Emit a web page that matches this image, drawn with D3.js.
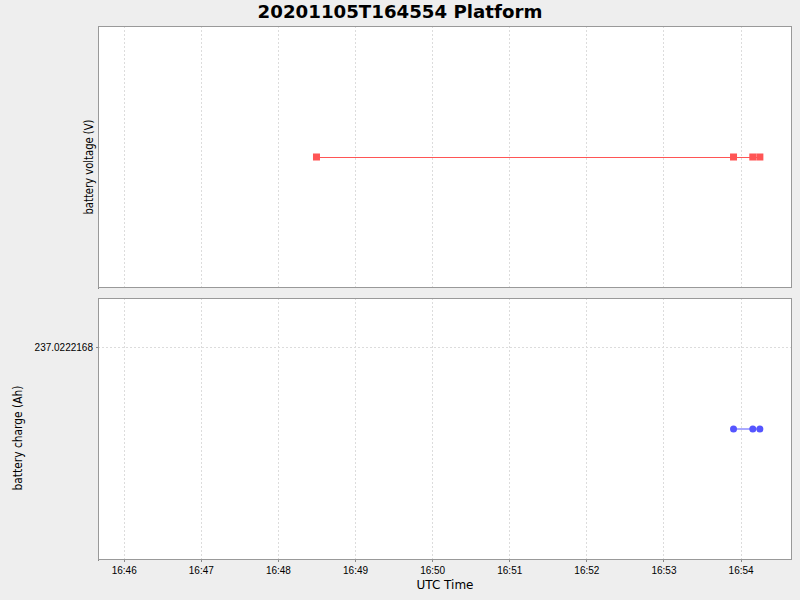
<!DOCTYPE html>
<html>
<head>
<meta charset="utf-8">
<script src="https://cdn.jsdelivr.net/npm/d3@7"></script>
<style>
  body { margin: 0; background: #eeeeee; }
  svg { display: block; font-family: "DejaVu Sans", sans-serif; }
  .grid line { stroke: #dcdcdc; stroke-dasharray: 2,2; shape-rendering: crispEdges; }
  .axis path, .axis line { stroke: #888; shape-rendering: crispEdges; }
  .axis text { fill: #000; font-size: 10px; }
</style>
</head>
<body>
<div id="chart"></div>
<script>
// data
const sampleTimes = ["2020-11-05T16:48:30", "2020-11-05T16:53:54.5", "2020-11-05T16:54:09.5", "2020-11-05T16:54:15"];
const voltageValues = [25.2, 25.2, 25.2, 25.2];
const chargeTimes = ["2020-11-05T16:53:54.5", "2020-11-05T16:54:09.5", "2020-11-05T16:54:15"];
const chargeValues = [237.0222164, 237.0222164, 237.0222164];
const chargeTicks = [237.0222168];
const timeDomain = ["2020-11-05T16:45:40", "2020-11-05T16:54:40"];

const width = 800, height = 600;
const plotLeft = 98, plotRight = 792;
const top1 = 26, bottom1 = 288;
const top2 = 298, bottom2 = 560;

// utcParse plus optional fractional seconds
const parse = s => {
  const [a, b] = s.split(".");
  return new Date(d3.utcParse("%Y-%m-%dT%H:%M:%S")(a).getTime() + (b ? +("0." + b) * 1000 : 0));
};

const svg = d3.select("#chart").append("svg")
    .attr("width", width)
    .attr("height", height);

const xScale = d3.scaleUtc()
    .domain(timeDomain.map(parse))
    .range([plotLeft, plotRight]);

const xTicks = d3.utcMinute.range(parse("2020-11-05T16:46:00"), parse("2020-11-05T16:54:30"));

const yVolt = d3.scaleLinear().domain([24.2, 26.2]).range([bottom1, top1]);
const yCharge = d3.scaleLinear().domain([237.02221576, 237.02221704]).range([bottom2, top2]);

function panel(top, bottom, yScale, yTicks) {
  const g = svg.append("g");
  g.append("rect")
      .attr("x", plotLeft).attr("y", top)
      .attr("width", plotRight - plotLeft).attr("height", bottom - top)
      .attr("fill", "#fff");
  const grid = g.append("g").attr("class", "grid");
  grid.selectAll(".vx").data(xTicks).join("line")
      .attr("x1", d => Math.round(xScale(d)) + 0.5).attr("x2", d => Math.round(xScale(d)) + 0.5)
      .attr("y1", top).attr("y2", bottom);
  grid.selectAll(".hy").data(yTicks).join("line")
      .attr("x1", plotLeft).attr("x2", plotRight)
      .attr("y1", d => Math.round(yScale(d)) + 0.5).attr("y2", d => Math.round(yScale(d)) + 0.5);
  g.append("g").attr("class", "axis")
      .attr("transform", `translate(${plotLeft},0)`)
      .call(d3.axisLeft(yScale).tickValues(yTicks).tickSize(2).tickSizeOuter(0)
        .tickFormat(d3.format(".7f")));
  g.append("rect")
      .attr("x", plotLeft + 0.5).attr("y", top + 0.5)
      .attr("width", plotRight - plotLeft - 1).attr("height", bottom - top - 1)
      .attr("fill", "none").attr("stroke", "#999");
  return g;
}

const p1 = panel(top1, bottom1, yVolt, []);
const p2 = panel(top2, bottom2, yCharge, chargeTicks);

// x axis at bottom
svg.append("g").attr("class", "axis")
    .attr("transform", `translate(0,${bottom2})`)
    .call(d3.axisBottom(xScale).tickValues(xTicks).tickSize(2).tickSizeOuter(0)
      .tickFormat(d3.utcFormat("%H:%M")))
    .call(g => g.select(".domain").remove())
    .selectAll("text").attr("dy", "0.9em");

// voltage series
const voltData = sampleTimes.map((t, i) => ({ t: parse(t), v: voltageValues[i] }));
p1.append("path")
    .datum(voltData)
    .attr("fill", "none").attr("stroke", "#ff5555").attr("stroke-width", 1)
    .attr("shape-rendering", "crispEdges")
    .attr("transform", "translate(0,0.5)")
    .attr("d", d3.line().x(d => xScale(d.t)).y(d => yVolt(d.v)));
p1.selectAll(".sq").data(voltData).join("rect")
    .attr("x", d => xScale(d.t) - 3.5).attr("y", d => yVolt(d.v) - 3.5)
    .attr("width", 7).attr("height", 7)
    .attr("fill", "#ff5555");

// charge series
const chargeData = chargeTimes.map((t, i) => ({ t: parse(t), v: chargeValues[i] }));
p2.append("path")
    .datum(chargeData)
    .attr("fill", "none").attr("stroke", "#5555ff").attr("stroke-width", 1)
    .attr("d", d3.line().x(d => xScale(d.t)).y(d => yCharge(d.v)));
p2.selectAll(".dot").data(chargeData).join("circle")
    .attr("cx", d => xScale(d.t)).attr("cy", d => yCharge(d.v))
    .attr("r", 3.5)
    .attr("fill", "#5555ff");

// titles and labels
svg.append("text")
    .attr("x", 400).attr("y", 18)
    .attr("text-anchor", "middle")
    .attr("font-size", 18.2).attr("font-weight", "bold")
    .text("20201105T164554 Platform");

svg.append("text")
    .attr("x", 445).attr("y", 589)
    .attr("text-anchor", "middle")
    .attr("font-size", 12)
    .text("UTC Time");

svg.append("text")
    .attr("transform", `translate(93,${(top1 + bottom1) / 2 + 10}) rotate(-90)`)
    .attr("text-anchor", "middle")
    .attr("font-size", 11.5)
    .attr("textLength", 95).attr("lengthAdjust", "spacingAndGlyphs")
    .text("battery voltage (V)");

svg.append("text")
    .attr("transform", `translate(22,${(top2 + bottom2) / 2 + 9}) rotate(-90)`)
    .attr("text-anchor", "middle")
    .attr("font-size", 11.5)
    .attr("textLength", 105).attr("lengthAdjust", "spacingAndGlyphs")
    .text("battery charge (Ah)");
</script>
</body>
</html>
